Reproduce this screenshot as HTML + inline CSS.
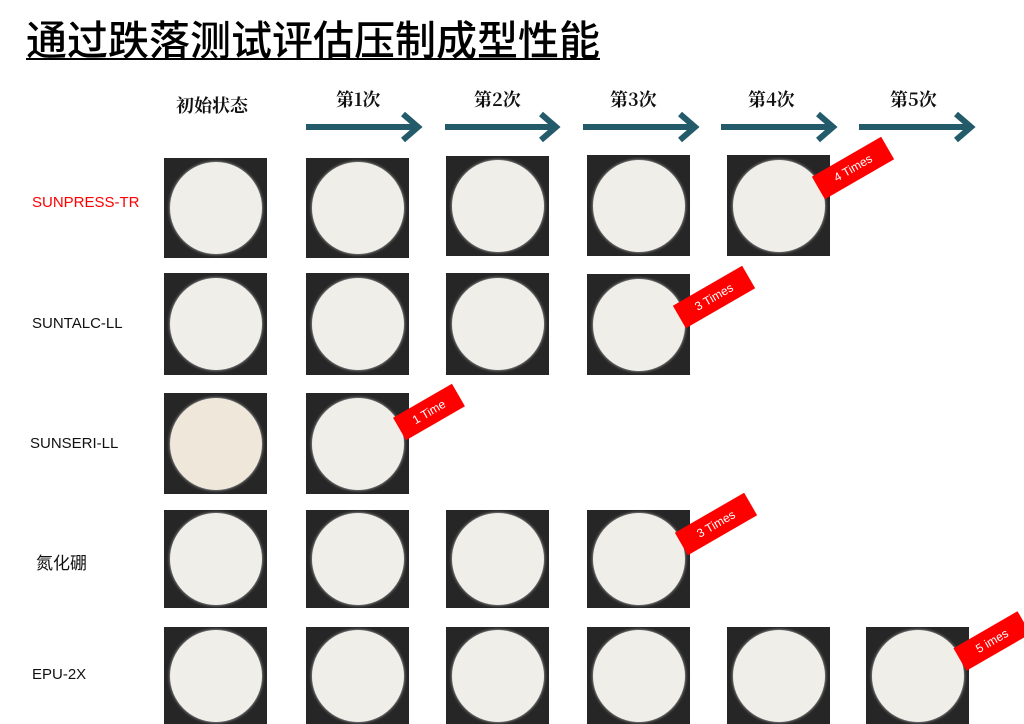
<!DOCTYPE html>
<html><head><meta charset="utf-8"><style>
body{margin:0;width:1024px;height:724px;background:#fff;position:relative;overflow:hidden;font-family:"Liberation Sans","Noto Sans CJK SC",sans-serif}
.t{position:absolute;left:26px;top:12px;font-size:41px;line-height:50px;font-family:"Noto Sans CJK SC",sans-serif;font-weight:500;text-decoration:underline;text-decoration-thickness:2px;text-underline-offset:3px;color:#000;letter-spacing:0px}
.h{position:absolute;font-size:18px;font-family:"Noto Serif CJK SC",serif;font-weight:bold;color:#111}
.p{position:absolute;width:103px;background:#262626;overflow:hidden}
.p::after{content:"";position:absolute;left:50%;top:50%;width:92px;height:92px;margin:-46px 0 0 -46px;border-radius:50%;background:#efeee9;box-shadow:0 0 3px #bbb}
.p.y::after{background:#efe8da}
.l{position:absolute;font-size:15px;color:#111}
.r{position:absolute;background:#f00;color:#fff;font-size:12px;width:80px;height:26px;line-height:26px;text-align:center;transform:rotate(-30deg)}
</style></head><body>
<div class="t">通过跌落测试评估压制成型性能</div>
<div class="h" style="left:176px;top:92px">初始状态</div>
<div class="h" style="left:336px;top:86px">第1次</div>
<div class="h" style="left:474px;top:86px">第2次</div>
<div class="h" style="left:610px;top:86px">第3次</div>
<div class="h" style="left:748px;top:86px">第4次</div>
<div class="h" style="left:890px;top:86px">第5次</div>
<svg style="position:absolute;left:0;top:0" width="1024" height="724">
<g stroke="#245b6b" stroke-width="6" fill="none" stroke-linecap="butt">
<path d="M306 127H418M403 114L418 127L403 140"/>
<path d="M445 127H556M541 114L556 127L541 140"/>
<path d="M583 127H695M680 114L695 127L680 140"/>
<path d="M721 127H833M818 114L833 127L818 140"/>
<path d="M859 127H971M956 114L971 127L956 140"/>
</g></svg>
<div class="l" style="left:32px;top:194px;color:#f00">SUNPRESS-TR</div>
<div class="l" style="left:32px;top:315px">SUNTALC-LL</div>
<div class="l" style="left:30px;top:435px">SUNSERI-LL</div>
<div class="l" style="left:36px;top:549px;font-family:'Noto Sans CJK SC',sans-serif;font-size:17px">氮化硼</div>
<div class="l" style="left:32px;top:666px">EPU-2X</div>

<div class="p" style="left:164px;top:158px;height:100px"></div>
<div class="p" style="left:306px;top:158px;height:100px"></div>
<div class="p" style="left:446px;top:156px;height:100px"></div>
<div class="p" style="left:587px;top:155px;height:101px"></div>
<div class="p" style="left:727px;top:155px;height:101px"></div>

<div class="p" style="left:164px;top:273px;height:102px"></div>
<div class="p" style="left:306px;top:273px;height:102px"></div>
<div class="p" style="left:446px;top:273px;height:102px"></div>
<div class="p" style="left:587px;top:274px;height:101px"></div>

<div class="p y" style="left:164px;top:393px;height:101px"></div>
<div class="p" style="left:306px;top:393px;height:101px"></div>

<div class="p" style="left:164px;top:510px;height:98px"></div>
<div class="p" style="left:306px;top:510px;height:98px"></div>
<div class="p" style="left:446px;top:510px;height:98px"></div>
<div class="p" style="left:587px;top:510px;height:98px"></div>

<div class="p" style="left:164px;top:627px;height:97px"></div>
<div class="p" style="left:306px;top:627px;height:97px"></div>
<div class="p" style="left:446px;top:627px;height:97px"></div>
<div class="p" style="left:587px;top:627px;height:97px"></div>
<div class="p" style="left:727px;top:627px;height:97px"></div>
<div class="p" style="left:866px;top:627px;height:97px"></div>

<div class="r" style="left:813px;top:155px">4 Times</div>
<div class="r" style="left:674px;top:284px">3 Times</div>
<div class="r" style="left:395px;top:399px;width:68px">1 Time</div>
<div class="r" style="left:676px;top:511px">3 Times</div>
<div class="r" style="left:955px;top:628px;width:74px">5 imes</div>
</body></html>
